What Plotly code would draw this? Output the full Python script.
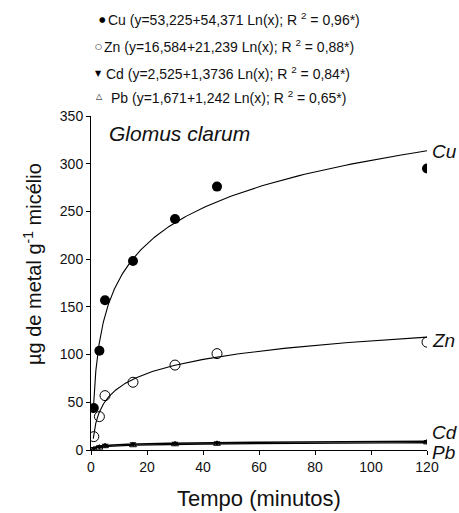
import numpy as np
import plotly.graph_objects as go

# ---- data ----
tempo = [1, 3, 5, 15, 30, 45, 120]
cu = [44, 104, 157, 198, 242, 276, 295]
zn = [14, 35, 57, 71, 89, 101, 113]
cd = [1.5, 3.5, 5.0, 6.5, 7.0, 7.5, 9.0]
pb = [0.5, 2.5, 4.0, 5.0, 6.0, 6.5, 8.0]

# regression coefficients (a + b ln x) from legend
coef_cu = [53.225, 54.371]
coef_zn = [16.584, 21.239]
coef_cd = [2.525, 1.3736]
coef_pb = [1.671, 1.242]

legend_texts = [
    "Cu (y=53,225+54,371 Ln(x); R <sup>2</sup> = 0,96*)",
    "Zn (y=16,584+21,239 Ln(x); R <sup>2</sup> = 0,88*)",
    "Cd (y=2,525+1,3736 Ln(x); R <sup>2</sup> = 0,84*)",
    "Pb (y=1,671+1,242 Ln(x); R <sup>2</sup> = 0,65*)",
]
legend_symbols = ["●", "○", "▼", "△"]

FONT = "Liberation Sans, Arial, sans-serif"

xfit = np.exp(np.linspace(np.log(0.8), np.log(120), 200))

fig = go.Figure()

def fit(c):
    return c[0] + c[1] * np.log(xfit)

for c, w in [(coef_cu, 1.1), (coef_zn, 1.1), (coef_cd, 1.6), (coef_pb, 1.3)]:
    fig.add_trace(go.Scatter(x=xfit, y=fit(c), mode="lines",
                             line=dict(color="black", width=w),
                             showlegend=False, hoverinfo="skip"))

fig.add_trace(go.Scatter(x=tempo, y=cu, mode="markers", showlegend=False,
                         marker=dict(symbol="circle", size=10, color="black")))
fig.add_trace(go.Scatter(x=tempo, y=zn, mode="markers", showlegend=False,
                         marker=dict(symbol="circle-open", size=10, color="black",
                                     line=dict(width=1))))
fig.add_trace(go.Scatter(x=tempo, y=cd, mode="markers", showlegend=False,
                         marker=dict(symbol="triangle-down", size=6, color="black")))
fig.add_trace(go.Scatter(x=tempo, y=pb, mode="markers", showlegend=False,
                         marker=dict(symbol="triangle-up-open", size=6, color="black",
                                     line=dict(width=1))))

L, R, T, B = 91, 427, 116, 450
W, H = 459, 513

def px(x):
    return (x - L) / (R - L)

def py(y):
    return (B - y) / (B - T)

annotations = []
rows_y = [19, 46, 73, 97]
sym_x = [102.5, 98.5, 98.5, 99]
sym_sizes = [7.5, 8, 8, 8]
text_x = [105.5, 102, 104, 109]
for sym, sx, ss, t, yy, tx in zip(legend_symbols, sym_x, sym_sizes, legend_texts, rows_y, text_x):
    annotations.append(dict(x=px(sx), y=py(yy), xref="paper", yref="paper",
                            text=sym, showarrow=False, xanchor="center", yanchor="middle",
                            font=dict(family="DejaVu Sans", size=ss, color="black")))
    annotations.append(dict(x=px(tx), y=py(yy), xref="paper", yref="paper",
                            text=t, showarrow=False, xanchor="left", yanchor="middle",
                            font=dict(family=FONT, size=14, color="#111")))

annotations.append(dict(x=px(107), y=py(133), xref="paper", yref="paper",
                        text="<i>Glomus clarum</i>", showarrow=False,
                        xanchor="left", yanchor="middle",
                        font=dict(family=FONT, size=21, color="#111")))

for lab, yy in [("Cu", 151), ("Zn", 340), ("Cd", 432), ("Pb", 452)]:
    annotations.append(dict(x=px(430), y=py(yy), xref="paper", yref="paper",
                            text="<i>%s</i>" % lab, showarrow=False,
                            xanchor="left", yanchor="middle",
                            font=dict(family=FONT, size=19, color="#111")))

annotations.append(dict(x=px(32), y=py(264), xref="paper", yref="paper",
                        text="µg de metal g<sup>-1</sup> micélio", textangle=-90,
                        showarrow=False, xanchor="center", yanchor="middle",
                        font=dict(family=FONT, size=20, color="#111")))
annotations.append(dict(x=px(259), y=py(498), xref="paper", yref="paper",
                        text="Tempo (minutos)", showarrow=False,
                        xanchor="center", yanchor="middle",
                        font=dict(family=FONT, size=22, color="#111")))

fig.update_layout(
    width=W, height=H,
    margin=dict(l=L, r=W - R, t=T, b=H - B, pad=0),
    paper_bgcolor="white", plot_bgcolor="white",
    font=dict(family=FONT, size=14, color="#111"),
    showlegend=False,
    annotations=annotations,
    xaxis=dict(range=[0, 120], tickmode="array", tickvals=[0, 20, 40, 60, 80, 100, 120],
               showgrid=False, zeroline=False, showline=True, linecolor="black",
               linewidth=1, ticks="outside", ticklen=4, tickcolor="black",
               tickfont=dict(size=14, family=FONT, color="#111")),
    yaxis=dict(range=[0, 350], tickmode="array",
               tickvals=[0, 50, 100, 150, 200, 250, 300, 350],
               showgrid=False, zeroline=False, showline=True, linecolor="black",
               linewidth=1, ticks="outside", ticklen=4, tickcolor="black",
               tickfont=dict(size=14, family=FONT, color="#111")),
)

fig.write_html("out.html")
